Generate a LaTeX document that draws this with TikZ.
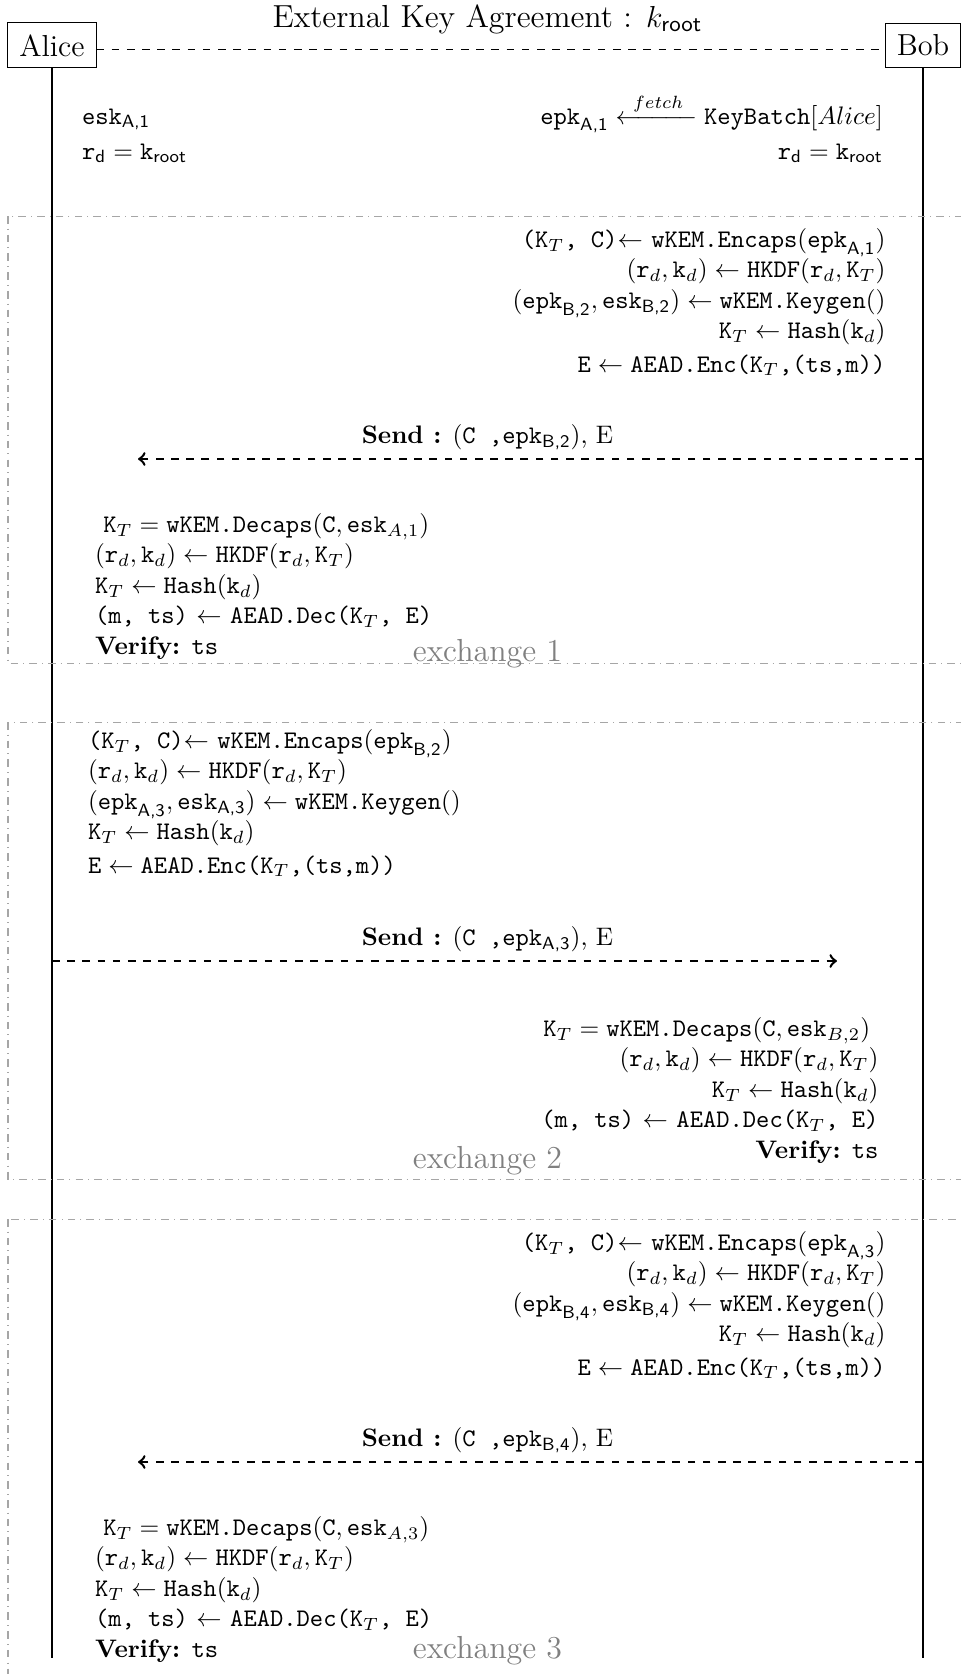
\documentclass[tikz,border=0pt]{standalone}
\usepackage{amsmath}
\usepackage{tikz}
\usetikzlibrary{positioning}

\begin{document}
\begin{tikzpicture}[
  x=0.395pt, y=-0.395pt,
  actor/.style={draw, font=\large, inner sep=4.5pt},
  life/.style={line width=1pt},
  msg/.style={line width=1pt, dashed, ->},
  frame/.style={draw=gray!70, dash dot},
  block/.style={inner sep=0pt},
  tag/.style={font=\fontsize{12.6}{15}\selectfont, text=gray, anchor=base},
  lbl/.style={anchor=south}
]
\useasboundingbox (0,0) rectangle (960,1674);

% actors
\node[actor] (alice) at (52,45.3) {Alice};
\node[actor] (bob) at (923,45.3) {Bob};
\node[font=\fontsize{12.6}{15}\selectfont, anchor=base] (title) at (487.5,27) {External Key Agreement : $k_{\textsf{root}}$};
\draw[dashed] ([yshift=-1.5pt]alice.east) -- ([yshift=-1.5pt]bob.west);

\coordinate (aliceEnd) at (52,1658);
\coordinate (bobEnd) at (923,1658);
\draw[life] (alice) -- (aliceEnd);
\draw[life] (bob) -- (bobEnd);

% setup (blocks sit on the baseline of their last line)
\node[block, anchor=base west, align=left] (aliceInit) at (81.5,159) {%
  $\texttt{esk}_{\textsf{A,1}}$\\[1.8pt]
  $\texttt{r}_{\textsf{d}} = \texttt{k}_{\textsf{root}}$};
\node[block, anchor=base east, align=right] (bobInit) at (883.5,159) {%
  $\texttt{epk}_{\textsf{A,1}} \xleftarrow{\hspace{3pt}fetch\hspace{3pt}} \texttt{KeyBatch}[Alice]$\\[1.8pt]
  $\texttt{r}_{\textsf{d}} = \texttt{k}_{\textsf{root}}$};

% exchange 1
\draw[frame] (8,216) rectangle (975,663);
\node[block, anchor=base east, align=right] (bobEnc1) at (886,372) {%
  \texttt{(K}$_T$\texttt{, C)}$\leftarrow$ \texttt{wKEM.Encaps}$(\texttt{epk}_{\textsf{A,1}})$\\
  $(\texttt{r}_d, \texttt{k}_d) \leftarrow \texttt{HKDF}(\texttt{r}_d, \texttt{K}_T)$\\
  $(\texttt{epk}_{\textsf{B,2}}, \texttt{esk}_{\textsf{B,2}}) \leftarrow \texttt{wKEM.Keygen}()$\\
  $\texttt{K}_T \leftarrow \texttt{Hash}(\texttt{k}_d)$\\[1.2pt]
  $\texttt{E} \leftarrow \texttt{AEAD.Enc(K}_T\texttt{,(ts,m))}$};
\coordinate (m1s) at (923,459);
\coordinate (m1e) at (138,459);
\draw[msg] (m1s) -- (m1e);
\node[lbl] (send1) at (487.5,459) {\textbf{Send :} (\texttt{C ,epk}$_{\textsf{B,2}}$), E};
\node[block, anchor=base west, align=left] (aliceDec1) at (94.5,654) {%
  \hspace*{3.3pt}$\texttt{K}_T = \texttt{wKEM.Decaps}(\texttt{C}, \texttt{esk}_{A,1})$\\
  $(\texttt{r}_d, \texttt{k}_d) \leftarrow \texttt{HKDF}(\texttt{r}_d, \texttt{K}_T)$\\
  $\texttt{K}_T \leftarrow \texttt{Hash}(\texttt{k}_d)$\\
  \texttt{(m, ts)} $\leftarrow$ \texttt{AEAD.Dec(K}$_T$\texttt{, E)}\\
  \textbf{Verify:} \texttt{ts}};
\node[tag] (ex1) at (487.5,661) {exchange 1};

% exchange 2
\draw[frame] (8,722) rectangle (975,1179);
\node[block, anchor=base west, align=left] (aliceEnc2) at (87.5,873) {%
  \texttt{(K}$_T$\texttt{, C)}$\leftarrow$ \texttt{wKEM.Encaps}$(\texttt{epk}_{\textsf{B,2}})$\\
  $(\texttt{r}_d, \texttt{k}_d) \leftarrow \texttt{HKDF}(\texttt{r}_d, \texttt{K}_T)$\\
  $(\texttt{epk}_{\textsf{A,3}}, \texttt{esk}_{\textsf{A,3}}) \leftarrow \texttt{wKEM.Keygen}()$\\
  $\texttt{K}_T \leftarrow \texttt{Hash}(\texttt{k}_d)$\\[1.2pt]
  $\texttt{E} \leftarrow \texttt{AEAD.Enc(K}_T\texttt{,(ts,m))}$};
\coordinate (m2s) at (52,961);
\coordinate (m2e) at (837,961);
\draw[msg] (m2s) -- (m2e);
\node[lbl] (send2) at (487.5,961) {\textbf{Send :} (\texttt{C ,epk}$_{\textsf{A,3}}$), E};
\node[block, anchor=base east, align=right] (bobDec2) at (879,1158) {%
  $\texttt{K}_T = \texttt{wKEM.Decaps}(\texttt{C}, \texttt{esk}_{B,2})$\hspace*{3.3pt}\\
  $(\texttt{r}_d, \texttt{k}_d) \leftarrow \texttt{HKDF}(\texttt{r}_d, \texttt{K}_T)$\\
  $\texttt{K}_T \leftarrow \texttt{Hash}(\texttt{k}_d)$\\
  \texttt{(m, ts)} $\leftarrow$ \texttt{AEAD.Dec(K}$_T$\texttt{, E)}\\
  \textbf{Verify:} \texttt{ts}};
\node[tag] (ex2) at (487.5,1168) {exchange 2};

% exchange 3
\draw[frame] (8,1219) rectangle (975,1700);
\node[block, anchor=base east, align=right] (bobEnc3) at (886,1375) {%
  \texttt{(K}$_T$\texttt{, C)}$\leftarrow$ \texttt{wKEM.Encaps}$(\texttt{epk}_{\textsf{A,3}})$\\
  $(\texttt{r}_d, \texttt{k}_d) \leftarrow \texttt{HKDF}(\texttt{r}_d, \texttt{K}_T)$\\
  $(\texttt{epk}_{\textsf{B,4}}, \texttt{esk}_{\textsf{B,4}}) \leftarrow \texttt{wKEM.Keygen}()$\\
  $\texttt{K}_T \leftarrow \texttt{Hash}(\texttt{k}_d)$\\[1.2pt]
  $\texttt{E} \leftarrow \texttt{AEAD.Enc(K}_T\texttt{,(ts,m))}$};
\coordinate (m3s) at (923,1462);
\coordinate (m3e) at (138,1462);
\draw[msg] (m3s) -- (m3e);
\node[lbl] (send3) at (487.5,1462) {\textbf{Send :} (\texttt{C ,epk}$_{\textsf{B,4}}$), E};
\node[block, anchor=base west, align=left] (aliceDec3) at (94.5,1657) {%
  \hspace*{3.3pt}$\texttt{K}_T = \texttt{wKEM.Decaps}(\texttt{C}, \texttt{esk}_{A,3})$\\
  $(\texttt{r}_d, \texttt{k}_d) \leftarrow \texttt{HKDF}(\texttt{r}_d, \texttt{K}_T)$\\
  $\texttt{K}_T \leftarrow \texttt{Hash}(\texttt{k}_d)$\\
  \texttt{(m, ts)} $\leftarrow$ \texttt{AEAD.Dec(K}$_T$\texttt{, E)}\\
  \textbf{Verify:} \texttt{ts}};
\node[tag] (ex3) at (487.5,1658) {exchange 3};
\end{tikzpicture}
\end{document}
